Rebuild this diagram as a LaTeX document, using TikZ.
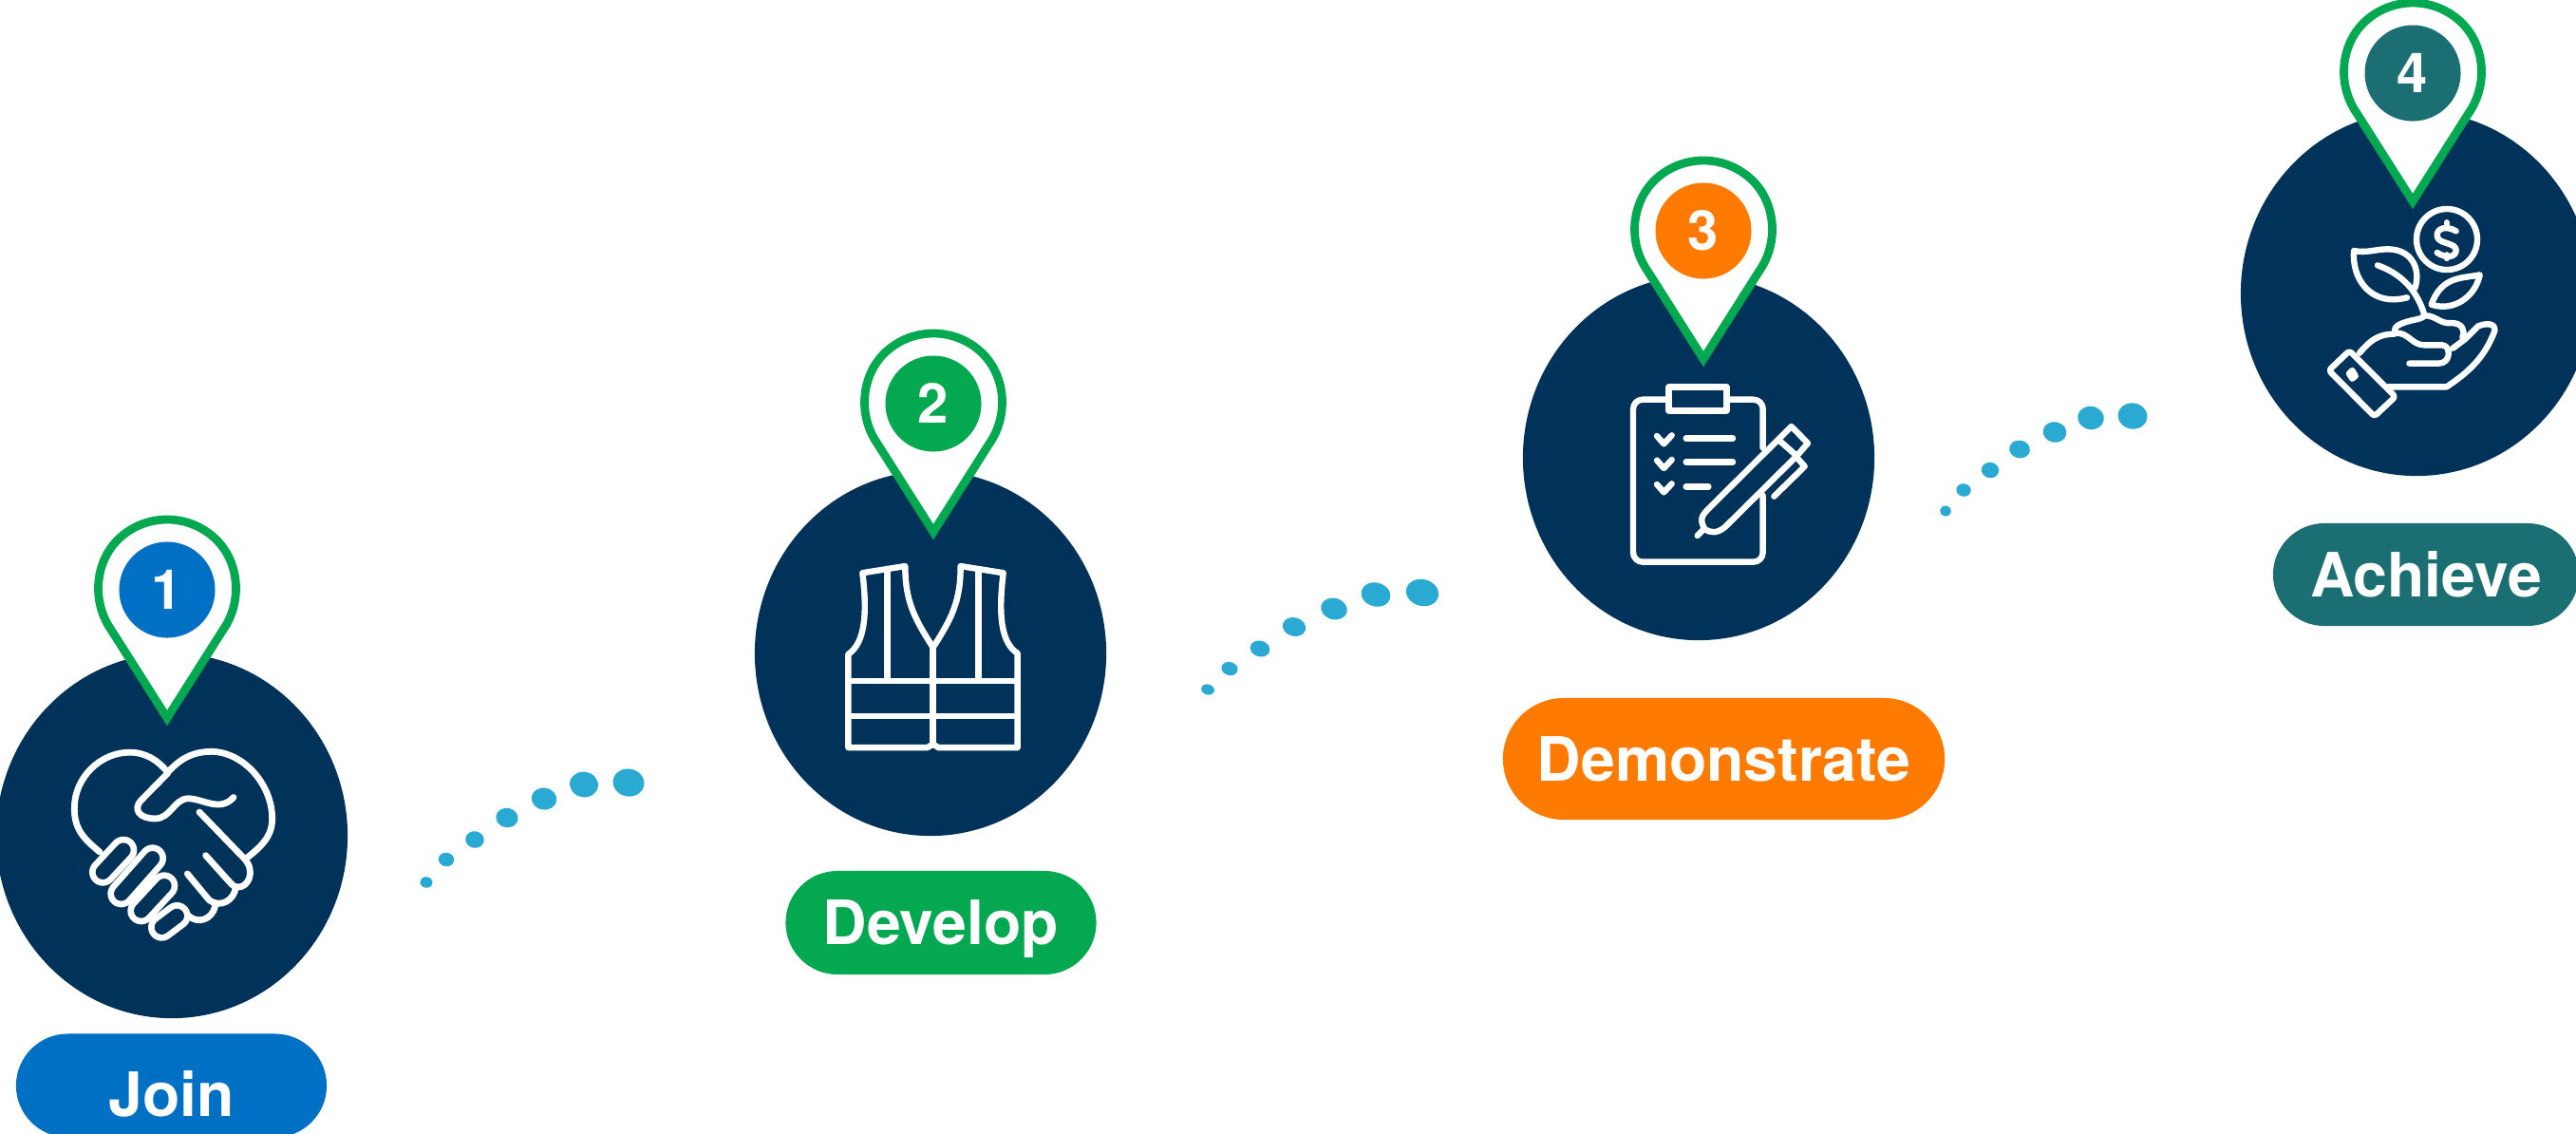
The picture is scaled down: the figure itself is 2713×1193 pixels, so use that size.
\documentclass[tikz,border=0pt]{standalone}
\usepackage{fontspec}
\setmainfont{TeX Gyre Heros}
\usetikzlibrary{shapes.geometric}
\definecolor{navy}{RGB}{0,50,90}
\definecolor{joinblue}{RGB}{0,112,197}
\definecolor{devgreen}{RGB}{4,168,80}
\definecolor{demoorange}{RGB}{255,122,0}
\definecolor{achteal}{RGB}{27,110,113}
\definecolor{dotblue}{RGB}{42,170,211}
\tikzset{
  x=0.01cm,y=-0.01cm,
  bigdisc/.style={shape=ellipse,fill=navy,inner sep=0pt,minimum width=3.70cm,minimum height=3.84cm},
  pinline/.style={draw=devgreen,fill=white,line width=0.088cm,miter limit=10},
  badge/.style={shape=circle,inner sep=0pt,minimum size=1.01cm,text=white,font=\fontsize{16.5}{18}\selectfont\bfseries,text height=11.9pt,text depth=0pt},
  pill/.style={shape=rectangle,inner sep=0pt,text=white,font=\fontsize{18.3}{20}\selectfont\bfseries,text height=13.1pt,text depth=0pt},
  icon/.style={draw=white,line width=0.064cm,line cap=round,line join=round},
  handicon/.style={draw=white,line width=0.068cm,line cap=round,line join=round},
  dotmark/.style={fill=dotblue},
}
\newcommand{\pinmark}[5]{%
  \begin{scope}[shift={(#2,#3)}]
    \draw[pinline] (-59,42) .. controls (-80,12) and (-76.4,-31.64) .. (-48.55,-55.85)
      .. controls (-20.7,-80.06) and (20.7,-80.06) .. (48.55,-55.85)
      .. controls (76.4,-31.64) and (80,12) .. (59,42) -- (0,135) -- cycle;
    \node[badge,fill=#4] (#1) at (0,0) {#5};
  \end{scope}}
\newcommand{\dotE}[5]{\fill[dotmark,rotate around={#5:(#1,#2)}] (#1,#2) ellipse [x radius=#3*0.01cm,y radius=#4*0.01cm];}
\newcommand{\capsule}[4]{%
  \draw[white,line width=0.286cm,line cap=round] (#1,#2) -- (#3,#4);
  \draw[navy,line width=0.152cm,line cap=round] (#1,#2) -- (#3,#4);}
\begin{document}
\begin{tikzpicture}
\useasboundingbox (0,0) rectangle (2713,1193);
\clip (0,0) rectangle (2713,1193);
% discs
\node[bigdisc] (d1) at (181,880) {};
\node[bigdisc] (d2) at (980,688) {};
\node[bigdisc] (d3) at (1789,482) {};
\node[bigdisc] (d4) at (2545,309) {};
% pins
\pinmark{b1}{176}{621}{joinblue}{1}
\pinmark{b2}{983}{425}{devgreen}{2}
\pinmark{b3}{1794}{243}{demoorange}{3}
\pinmark{b4}{2541}{77}{achteal}{4}
% pills
\node[pill,fill=joinblue,rounded corners=0.545cm,minimum width=3.27cm,minimum height=1.09cm,text height=18.2pt] (p1) at (180.5,1143) {Join};
\node[pill,fill=devgreen,rounded corners=0.545cm,minimum width=3.27cm,minimum height=1.09cm] (p2) at (991,971.5) {Develop};
\node[pill,fill=demoorange,rounded corners=0.64cm,minimum width=4.65cm,minimum height=1.28cm] (p3) at (1815.5,799) {Demonstrate};
\node[pill,fill=achteal,rounded corners=0.54cm,minimum width=3.22cm,minimum height=1.08cm] (p4) at (2555,605) {Achieve};
% dots
\dotE{449}{929}{6.5}{5.8}{-10}
\dotE{470}{905}{8.2}{7.3}{-10}
\dotE{500}{884}{9.8}{8.8}{-10}
\dotE{534}{861}{11.7}{10.2}{-10}
\dotE{573}{841}{13.3}{11.5}{-10}
\dotE{615}{826}{15}{13.3}{-10}
\dotE{662}{824}{16.5}{14.5}{-10}
\dotE{1272}{726}{7}{5.5}{-15}
\dotE{1295}{704}{8.7}{7}{-15}
\dotE{1327}{683}{10.5}{8.4}{-15}
\dotE{1363}{660}{12.3}{9.8}{-15}
\dotE{1405}{641}{14}{11.2}{-15}
\dotE{1449}{626}{15.6}{12.5}{-15}
\dotE{1498}{624}{17.3}{14}{-15}
\dotE{2049}{538}{6}{5.4}{-10}
\dotE{2068}{516}{7.7}{6.8}{-10}
\dotE{2096}{495}{9.2}{8.2}{-10}
\dotE{2127}{473}{10.9}{9.4}{-10}
\dotE{2164}{455}{12.4}{10.8}{-10}
\dotE{2202}{440}{13.9}{12.2}{-10}
\dotE{2246}{438}{15.4}{13.6}{-10}
% handshake
\begin{scope}[shift={(0,530)},xscale=1/3,yscale=1/2.365]
  \draw[handicon] (315,868) .. controls (270,838) and (235,815) .. (235,760)
     .. controls (235,680) and (320,620) .. (410,620) .. controls (460,620) and (500,640) .. (530,670)
     .. controls (570,635) and (610,618) .. (670,618) .. controls (770,620) and (860,700) .. (860,785)
     .. controls (860,830) and (825,855) .. (778,884);
  \draw[handicon] (530,672) -- (445,740) .. controls (420,762) and (440,785) .. (490,785)
     .. controls (540,785) and (550,735) .. (595,735) .. controls (640,735) and (695,770) .. (738,732);
\end{scope}
\begin{scope}[shift={(80,860)},xscale=1/3,yscale=1/3]
  \draw[handicon] (390,-15) -- (530,130) .. controls (570,170) and (545,225) .. (510,222) .. controls (495,220) and (490,210) .. (480,200) -- (410,122);
  \draw[handicon] (505,222) .. controls (500,265) and (455,290) .. (420,262) -- (352,180);
  \draw[handicon] (440,282) .. controls (430,325) and (385,340) .. (355,312);
  \capsule{85}{175}{150}{105}
  \capsule{143}{243}{242}{131}
  \capsule{206}{297}{279}{218}
  \capsule{271}{349}{319}{313}
\end{scope}
% vest
\begin{scope}[shift={(780,330)},xscale=1/3,yscale=1/2.8]
  \draw[icon] (385,765) -- (520,745) .. controls (520,850) and (550,900) .. (608,985)
     .. controls (666,900) and (695,850) .. (695,745) -- (830,765)
     .. controls (815,880) and (820,970) .. (875,1002) -- (875,1280) -- (625,1280) -- (608,1270) -- (590,1280) -- (340,1280) -- (340,1005)
     .. controls (395,970) and (400,880) .. (385,765) -- cycle;
  \draw[icon] (608,985) -- (608,1272);
  \draw[icon] (340,1083) -- (875,1083);
  \draw[icon] (340,1187) -- (875,1187);
  \draw[icon] (463,755) -- (463,1083);
  \draw[icon] (752,755) -- (752,1083);
\end{scope}
% clipboard
\begin{scope}[shift={(1660,380)},xscale=1/3,yscale=1/3]
  \draw[icon] (293,82) rectangle (475,157);
  \draw[icon,rounded corners=0.1cm] (293,122) -- (180,122) -- (180,635) -- (590,635) -- (590,425);
  \draw[icon,rounded corners=0.1cm] (590,275) -- (590,122) -- (475,122);
  \foreach \yy in {0,77,153}{
    \draw[icon] (255,237+\yy) -- (277,262+\yy) -- (302,235+\yy);}
  \draw[icon] (347,245) -- (495,245);
  \draw[icon] (347,320) -- (495,320);
  \draw[icon] (347,397) -- (418,397);
  \draw[icon] (383,552) -- (405,530) .. controls (390,500) and (395,490) .. (420,465) -- (680,207) -- (732,260) -- (697,300)
     -- (470,525) .. controls (445,545) and (425,545) .. (405,530);
  \draw[icon] (640,250) -- (697,300);
  \draw[icon] (697,305) -- (722,333) -- (625,428);
\end{scope}
% plant
\draw[icon] (2577,252) circle [radius=0.32cm];
\begin{scope}[shift={(2380,200)},xscale=1/3,yscale=1/3]
  \draw[icon] (620,130) .. controls (590,112) and (558,120) .. (560,145) .. controls (562,172) and (620,165) .. (620,190) .. controls (620,215) and (585,215) .. (560,198);
  \draw[icon] (590,103) -- (590,118);
  \draw[icon] (590,205) -- (590,216);
  \draw[icon] (490,310) .. controls (510,250) and (480,185) .. (400,187) .. controls (365,188) and (335,200) .. (297,192)
     .. controls (290,280) and (350,370) .. (465,340);
  \draw[icon] (372,238) .. controls (440,262) and (495,310) .. (520,395);
  \draw[icon] (695,268) .. controls (640,280) and (575,270) .. (542,362) .. controls (610,385) and (680,340) .. (695,268) -- cycle;
  \draw[icon] (430,452) .. controls (415,430) and (450,420) .. (480,412) .. controls (500,408) and (515,405) .. (520,397)
     .. controls (555,395) and (570,425) .. (605,420) .. controls (640,420) and (650,445) .. (640,465);
  \draw[icon] (430,452) .. controls (470,450) and (480,490) .. (520,490) -- (575,490) .. controls (605,490) and (605,548) .. (565,548) -- (472,548);
  \draw[icon] (610,500) -- (650,470) -- (690,430) .. controls (715,420) and (745,420) .. (742,445) .. controls (710,530) and (660,575) .. (590,622) -- (405,622);
  \draw[icon] (315,515) .. controls (345,480) and (370,455) .. (425,455);
  \draw[icon,rounded corners=0.03cm] (283,508) -- (218,570) -- (362,715) -- (428,653) -- cycle;
  \draw[icon] (282,580) -- (292,570) -- (302,588) -- (292,596) -- cycle;
\end{scope}
\end{tikzpicture}
\end{document}
